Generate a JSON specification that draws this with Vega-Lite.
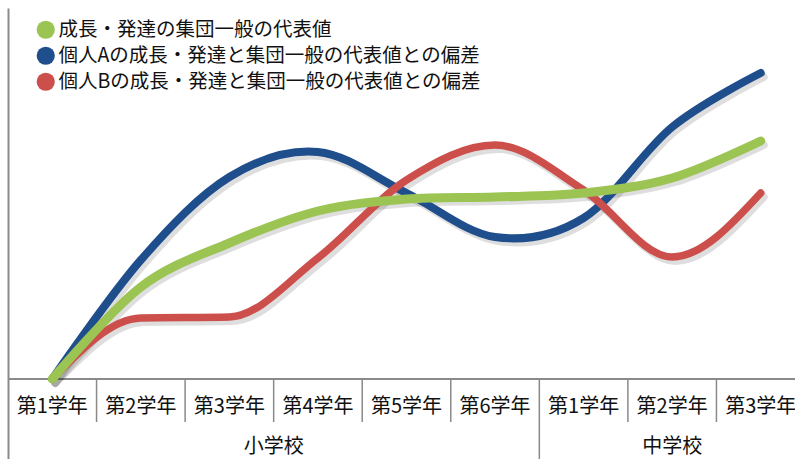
{
  "$schema": "https://vega.github.io/schema/vega-lite/v6.json",
  "autosize": "none",
  "width": 797,
  "height": 451,
  "padding": {"left": 8, "top": 8, "right": 0, "bottom": 0},
  "background": "white",
  "config": {
    "view": {"stroke": null},
    "font": "Noto Sans CJK JP"
  },
  "datasets": {
    "lines": [
      {"s": "成長・発達の集団一般の代表値", "i": 0, "v": 0},
      {"s": "成長・発達の集団一般の代表値", "i": 1, "v": 92},
      {"s": "成長・発達の集団一般の代表値", "i": 2, "v": 136},
      {"s": "成長・発達の集団一般の代表値", "i": 3, "v": 168},
      {"s": "成長・発達の集団一般の代表値", "i": 4, "v": 180},
      {"s": "成長・発達の集団一般の代表値", "i": 5, "v": 182},
      {"s": "成長・発達の集団一般の代表値", "i": 6, "v": 186},
      {"s": "成長・発達の集団一般の代表値", "i": 7, "v": 201},
      {"s": "成長・発達の集団一般の代表値", "i": 8, "v": 238},
      {"s": "個人Aの成長・発達と集団一般の代表値との偏差", "i": 0, "v": 0},
      {"s": "個人Aの成長・発達と集団一般の代表値との偏差", "i": 1, "v": 119},
      {"s": "個人Aの成長・発達と集団一般の代表値との偏差", "i": 2, "v": 202},
      {"s": "個人Aの成長・発達と集団一般の代表値との偏差", "i": 3, "v": 227},
      {"s": "個人Aの成長・発達と集団一般の代表値との偏差", "i": 4, "v": 186},
      {"s": "個人Aの成長・発達と集団一般の代表値との偏差", "i": 5, "v": 142},
      {"s": "個人Aの成長・発達と集団一般の代表値との偏差", "i": 6, "v": 161},
      {"s": "個人Aの成長・発達と集団一般の代表値との偏差", "i": 7, "v": 252},
      {"s": "個人Aの成長・発達と集団一般の代表値との偏差", "i": 8, "v": 306},
      {"s": "個人Bの成長・発達と集団一般の代表値との偏差", "i": 0, "v": 0},
      {"s": "個人Bの成長・発達と集団一般の代表値との偏差", "i": 1, "v": 61},
      {"s": "個人Bの成長・発達と集団一般の代表値との偏差", "i": 2, "v": 62},
      {"s": "個人Bの成長・発達と集団一般の代表値との偏差", "i": 3, "v": 121},
      {"s": "個人Bの成長・発達と集団一般の代表値との偏差", "i": 4, "v": 199},
      {"s": "個人Bの成長・発達と集団一般の代表値との偏差", "i": 5, "v": 234},
      {"s": "個人Bの成長・発達と集団一般の代表値との偏差", "i": 6, "v": 189},
      {"s": "個人Bの成長・発達と集団一般の代表値との偏差", "i": 7, "v": 122},
      {"s": "個人Bの成長・発達と集団一般の代表値との偏差", "i": 8, "v": 186}
    ],
    "grades": [
      {"i": 0, "label": "第1学年"},
      {"i": 1, "label": "第2学年"},
      {"i": 2, "label": "第3学年"},
      {"i": 3, "label": "第4学年"},
      {"i": 4, "label": "第5学年"},
      {"i": 5, "label": "第6学年"},
      {"i": 6, "label": "第1学年"},
      {"i": 7, "label": "第2学年"},
      {"i": 8, "label": "第3学年"}
    ],
    "schools": [
      {"i": 2.5, "label": "小学校"},
      {"i": 7, "label": "中学校"}
    ],
    "minorSep": [
      {"i": 0.5}, {"i": 1.5}, {"i": 2.5}, {"i": 3.5}, {"i": 4.5}, {"i": 6.5}, {"i": 7.5}
    ],
    "majorSep": [
      {"i": 5.5}
    ]
  },
  "layer": [
    {
      "data": {"name": "minorSep"},
      "mark": {"type": "rule", "color": "#8a8a8a", "strokeWidth": 1.5},
      "encoding": {
        "x": {"field": "i", "type": "quantitative", "scale": {"domain": [-0.5, 8.5], "nice": false, "zero": false}, "axis": null},
        "y": {"datum": 0, "type": "quantitative"},
        "y2": {"datum": -43}
      }
    },
    {
      "data": {"name": "majorSep"},
      "mark": {"type": "rule", "color": "#8a8a8a", "strokeWidth": 1.5},
      "encoding": {
        "x": {"field": "i", "type": "quantitative"},
        "y": {"datum": 0, "type": "quantitative"},
        "y2": {"datum": -80}
      }
    },
    {
      "data": {"values": [{}]},
      "mark": {"type": "rule", "color": "#8a8a8a", "strokeWidth": 2},
      "encoding": {
        "y": {"datum": 0, "type": "quantitative", "scale": {"domain": [-80, 371], "nice": false, "zero": false},
          "axis": {"title": null, "labels": false, "ticks": false, "grid": false, "domain": true, "domainColor": "#8a8a8a", "domainWidth": 2}}
      }
    },
    {
      "data": {"name": "grades"},
      "mark": {"type": "text", "fontSize": 20, "color": "#111", "baseline": "middle", "align": "center"},
      "encoding": {
        "x": {"field": "i", "type": "quantitative"},
        "y": {"datum": -28, "type": "quantitative"},
        "text": {"field": "label"}
      }
    },
    {
      "data": {"name": "schools"},
      "mark": {"type": "text", "fontSize": 20, "color": "#111", "baseline": "middle", "align": "center"},
      "encoding": {
        "x": {"field": "i", "type": "quantitative"},
        "y": {"datum": -68, "type": "quantitative"},
        "text": {"field": "label"}
      }
    },
    {
      "data": {"name": "lines"},
      "transform": [{"filter": "datum.s !== '個人Bの成長・発達と集団一般の代表値との偏差'"}],
      "mark": {"type": "line", "interpolate": "cardinal", "strokeWidth": 8, "strokeCap": "round", "color": "#000", "opacity": 0.13, "xOffset": 3, "yOffset": 4},
      "encoding": {
        "x": {"field": "i", "type": "quantitative"},
        "y": {"field": "v", "type": "quantitative"},
        "detail": {"field": "s"}
      }
    },
    {
      "data": {"name": "lines"},
      "transform": [{"filter": "datum.s === '個人Bの成長・発達と集団一般の代表値との偏差'"}],
      "mark": {"type": "line", "interpolate": "monotone", "strokeWidth": 8, "strokeCap": "round", "color": "#000", "opacity": 0.13, "xOffset": 3, "yOffset": 4},
      "encoding": {
        "x": {"field": "i", "type": "quantitative"},
        "y": {"field": "v", "type": "quantitative"}
      }
    },
    {
      "data": {"name": "lines"},
      "transform": [{"filter": "datum.s === '個人Aの成長・発達と集団一般の代表値との偏差'"}],
      "mark": {"type": "line", "interpolate": "cardinal", "strokeWidth": 8, "strokeCap": "round"},
      "encoding": {
        "x": {"field": "i", "type": "quantitative"},
        "y": {"field": "v", "type": "quantitative"},
        "color": {
          "field": "s", "type": "nominal",
          "scale": {
            "domain": ["成長・発達の集団一般の代表値", "個人Aの成長・発達と集団一般の代表値との偏差", "個人Bの成長・発達と集団一般の代表値との偏差"],
            "range": ["#9bc453", "#1f4e8c", "#cc4f4b"]
          },
          "legend": {
            "title": null,
            "orient": "none",
            "legendX": 28,
            "legendY": 12,
            "padding": 0,
            "symbolType": "circle",
            "symbolSize": 330,
            "symbolStrokeWidth": 0,
            "labelFontSize": 19.5,
            "labelColor": "#111",
            "labelOffset": 3,
            "labelLimit": 600,
            "rowPadding": 5,
            "encode": {"symbols": {"update": {"fill": {"scale": "color", "field": "value"}, "fillOpacity": {"value": 1}, "strokeWidth": {"value": 0}}}}
          }
        }
      }
    },
    {
      "data": {"name": "lines"},
      "transform": [{"filter": "datum.s === '個人Bの成長・発達と集団一般の代表値との偏差'"}],
      "mark": {"type": "line", "interpolate": "monotone", "strokeWidth": 7.5, "strokeCap": "round"},
      "encoding": {
        "x": {"field": "i", "type": "quantitative"},
        "y": {"field": "v", "type": "quantitative"},
        "color": {"field": "s", "type": "nominal"}
      }
    },
    {
      "data": {"name": "lines"},
      "transform": [{"filter": "datum.s === '成長・発達の集団一般の代表値'"}],
      "mark": {"type": "line", "interpolate": "cardinal", "strokeWidth": 9, "strokeCap": "round"},
      "encoding": {
        "x": {"field": "i", "type": "quantitative"},
        "y": {"field": "v", "type": "quantitative"},
        "color": {"field": "s", "type": "nominal"}
      }
    }
  ]
}
